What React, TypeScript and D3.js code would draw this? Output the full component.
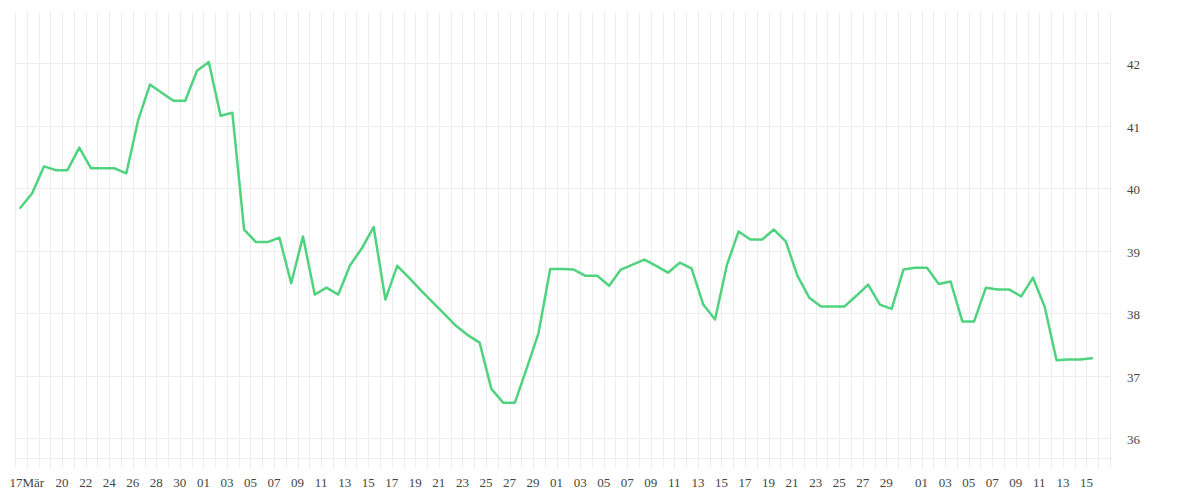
import React from "react";
import * as d3 from "d3";

// First data day (each value is one calendar day)
const firstDay = "2024-03-16";
const values = [
  39.69, 39.92, 40.35, 40.29, 40.29, 40.65, 40.32, 40.32, 40.32, 40.24,
  41.09, 41.66, 41.53, 41.40, 41.40, 41.88, 42.02, 41.16, 41.21, 39.34,
  39.14, 39.14, 39.21, 38.48, 39.23, 38.30, 38.41, 38.30, 38.77, 39.04,
  39.38, 38.22, 38.76, 38.57, 38.37, 38.18, 37.99, 37.80, 37.65, 37.53,
  36.79, 36.57, 36.57, 37.12, 37.68, 38.71, 38.71, 38.70, 38.60, 38.60,
  38.44, 38.70, 38.78, 38.86, 38.76, 38.65, 38.81, 38.72, 38.14, 37.90,
  38.77, 39.31, 39.18, 39.18, 39.34, 39.15, 38.60, 38.25, 38.11, 38.11,
  38.11, 38.28, 38.46, 38.14, 38.07, 38.70, 38.73, 38.73, 38.47, 38.51,
  37.87, 37.87, 38.41, 38.38, 38.38, 38.27, 38.57, 38.10, 37.25, 37.26,
  37.26, 37.28,
];

const tickDates = [
  "2024-03-17", "2024-03-20", "2024-03-22", "2024-03-24", "2024-03-26", "2024-03-28", "2024-03-30",
  "2024-04-01", "2024-04-03", "2024-04-05", "2024-04-07", "2024-04-09", "2024-04-11", "2024-04-13",
  "2024-04-15", "2024-04-17", "2024-04-19", "2024-04-21", "2024-04-23", "2024-04-25", "2024-04-27", "2024-04-29",
  "2024-05-01", "2024-05-03", "2024-05-05", "2024-05-07", "2024-05-09", "2024-05-11", "2024-05-13",
  "2024-05-15", "2024-05-17", "2024-05-19", "2024-05-21", "2024-05-23", "2024-05-25", "2024-05-27", "2024-05-29",
  "2024-06-01", "2024-06-03", "2024-06-05", "2024-06-07", "2024-06-09", "2024-06-11", "2024-06-13", "2024-06-15",
];
const tickLabels = [
  "17Mär", "20", "22", "24", "26", "28", "30",
  "01", "03", "05", "07", "09", "11", "13", "15", "17", "19", "21", "23", "25", "27", "29",
  "01", "03", "05", "07", "09", "11", "13", "15", "17", "19", "21", "23", "25", "27", "29",
  "01", "03", "05", "07", "09", "11", "13", "15",
];
const yTicks = [36, 37, 38, 39, 40, 41, 42];

const W = 1200;
const H = 500;
const FONT = "'Liberation Serif', 'Times New Roman', serif";

export default function App() {
  const parse = d3.utcParse("%Y-%m-%d");
  const start = parse(firstDay) as Date;
  const domainStart = start;
  const domainEnd = d3.utcDay.offset(start, 93);

  const x = d3.scaleUtc().domain([domainStart, domainEnd]).range([15, 1110]);
  const y = d3.scaleLinear().domain([36, 42]).range([438.3, 63.3]);

  const plotTop = 12;
  const plotBottom = 458.3;
  const gridBottom = 468;

  const points = values.map((v, i) => ({
    date: d3.utcHour.offset(d3.utcDay.offset(start, i), 11),
    value: v,
  }));

  const gridDays = d3.utcDay.range(domainStart, d3.utcDay.offset(domainEnd, 1));

  const line = d3
    .line<{ date: Date; value: number }>()
    .x((d) => x(d.date))
    .y((d) => y(d.value));

  return (
    <div style={{ position: "absolute", left: 0, top: 0, width: W, height: H, background: "#fff" }}>
      <svg width={W} height={H} style={{ display: "block" }}>
        <rect x={0} y={0} width={W} height={H} fill="#fff" />
        <g>
          {gridDays.map((d, i) => {
            const gx = Math.round(x(d)) + 0.5;
            return (
              <line key={"v" + i} x1={gx} x2={gx} y1={plotTop} y2={gridBottom} stroke="#ededed" strokeWidth={1} />
            );
          })}
          {yTicks.map((t) => {
            const gy = Math.round(y(t)) + 0.5;
            return <line key={"h" + t} x1={15} x2={1110} y1={gy} y2={gy} stroke="#ededed" strokeWidth={1} />;
          })}
          <line x1={15} x2={1110} y1={Math.round(plotBottom) + 0.5} y2={Math.round(plotBottom) + 0.5} stroke="#ededed" strokeWidth={1} />
        </g>
        <path d={line(points) || ""} fill="none" stroke="#4fd37e" strokeWidth={2.5} strokeLinejoin="round" strokeLinecap="round" />
        <g fontFamily={FONT} fontSize={13} fill="#444">
          {tickDates.map((s, i) => (
            <text key={"xt" + i} x={x(parse(s) as Date)} y={487} textAnchor="middle">
              {tickLabels[i]}
            </text>
          ))}
          {yTicks.map((t) => (
            <text key={"yt" + t} x={1127} y={y(t) + 6} textAnchor="start">
              {t}
            </text>
          ))}
        </g>
      </svg>
    </div>
  );
}
